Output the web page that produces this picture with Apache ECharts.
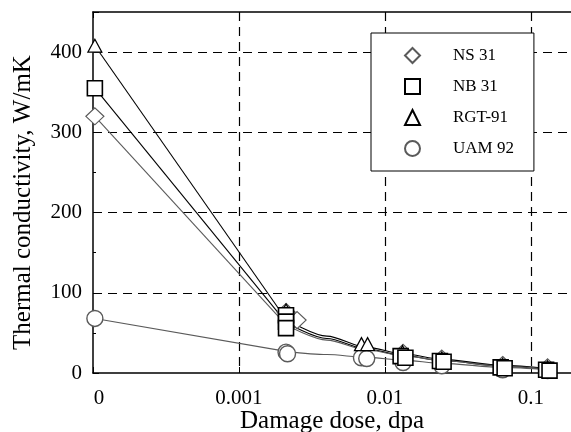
<!DOCTYPE html>
<html><head><meta charset="utf-8">
<script src="https://cdn.jsdelivr.net/npm/echarts@6/dist/echarts.min.js"></script>
<style>html,body{margin:0;padding:0;background:#fff}#c{width:571px;height:432px}</style>
</head><body><div id="c"></div>
<script>
// ---- tick labels ----
const xTickExponents = [-4, -3, -2, -1];
const xTickLabels = ['0', '0.001', '0.01', '0.1'];
const yTicks = [0, 100, 200, 300, 400];

// ---- measured points (markers) ----
const nsDose  = [0.000103, 0.0021, 0.0025, 0.0133, 0.0245, 0.064, 0.13];
const nsCond  = [320, 76, 66, 25, 18, 10, 7];
const nbDose  = [0.000103, 0.0021, 0.0021, 0.0021, 0.0128, 0.0138, 0.0238, 0.0252, 0.062, 0.066, 0.127, 0.134];
const nbCond  = [355, 72, 64, 56, 21, 19, 15, 14, 7, 6, 4, 3];
const rgtDose = [0.000103, 0.0021, 0.0069, 0.0076, 0.0132, 0.0245, 0.064, 0.13];
const rgtCond = [408, 78, 36, 36, 26, 18, 10, 7];
const uamDose = [0.000103, 0.0021, 0.00215, 0.0069, 0.0075, 0.0133, 0.0245, 0.064, 0.13];
const uamCond = [68, 26, 24, 19, 18, 13, 9, 4, 3];

// ---- fitted curves: straight drop from the unirradiated value, then a smooth tail ----
const dropDose = [0.000103, 0.0021];
const rgtDrop  = [408, 67];
const nbDrop   = [355, 63];
const nsDrop   = [320, 60];
const uamDrop  = [68, 27];
const tailDose = [0.0021, 0.004, 0.0075, 0.0133, 0.0245, 0.064, 0.13];
const rgtTail  = [67, 46, 32, 24, 17, 9.5, 5.5];
const nbTail   = [63, 43, 30, 22, 15.5, 8.5, 4.5];
const nsTail   = [60, 41, 29, 21.5, 15.5, 8.5, 5];
const uamTail  = [27, 23, 19.5, 16, 12, 7, 4];

const FONT = 'Liberation Serif';
const GRAY = '#5a5a5a';
const pair = (xs, ys) => xs.map((x, i) => [x, ys[i]]);

function xLabel(v) {
  const e = Math.round(Math.log10(v));
  const i = xTickExponents.indexOf(e);
  if (i < 0) return '';
  return i === 0 ? '{z|' + xTickLabels[i] + '}' : xTickLabels[i];
}

const dash = { type: [9, 6], color: '#000', width: 1.2 };
const axisLineStyle = { color: '#000', width: 1.5 };

function fitLine(name, xs, ys, color, smooth) {
  return { name: name, type: 'line', data: pair(xs, ys), showSymbol: false, symbol: 'none',
    smooth: smooth ? 0.3 : false, smoothMonotone: 'x',
    lineStyle: { color: color, width: 1.1 }, z: 2, silent: true };
}

const chart = echarts.init(document.getElementById('c'));
chart.setOption({
  animation: false,
  backgroundColor: '#fff',
  grid: { left: 93, right: 0, top: 12, bottom: 59, outerBoundsMode: 'none', containLabel: false },
  legend: {
    data: ['NS 31', 'NB 31', 'RGT-91', 'UAM 92'],
    orient: 'vertical', left: 371, top: 33,
    padding: [14, 20, 14, 33],
    itemWidth: 15, itemHeight: 15, itemGap: 14,
    backgroundColor: '#fff', borderColor: '#000', borderWidth: 1,
    textStyle: { fontFamily: FONT, fontSize: 17, color: '#000', padding: [0, 0, 0, 28] },
    selectedMode: false
  },
  xAxis: [{
    type: 'log', logBase: 10, min: 0.0001, max: 0.188, position: 'bottom',
    axisLine: { lineStyle: axisLineStyle },
    axisTick: { inside: true, length: 6, lineStyle: { color: '#000' } },
    axisLabel: {
      formatter: xLabel, color: '#000', fontFamily: FONT, fontSize: 21, margin: 15,
      showMaxLabel: false,
      rich: { z: { fontFamily: FONT, fontSize: 21, color: '#000', padding: [0, 0, 0, 12] } }
    },
    splitLine: { show: true, showMinLine: false, showMaxLine: false, lineStyle: dash },
    name: 'Damage dose, dpa', nameLocation: 'middle', nameGap: 36, nameMoveOverlap: false,
    nameTextStyle: { fontFamily: FONT, fontSize: 25, color: '#000' }
  }, {
    type: 'log', logBase: 10, min: 0.0001, max: 0.188, position: 'top',
    axisLine: { lineStyle: axisLineStyle },
    axisTick: { inside: true, length: 6, lineStyle: { color: '#000' } },
    axisLabel: { show: false },
    splitLine: { show: false }
  }],
  yAxis: [{
    type: 'value', min: 0, max: 450, interval: 100,
    axisLine: { show: true, lineStyle: axisLineStyle },
    axisTick: { show: true, inside: true, length: 6, lineStyle: { color: '#000' } },
    minorTick: { show: true, splitNumber: 2, length: 3, lineStyle: { color: '#000' } },
    axisLabel: {
      color: '#000', fontFamily: FONT, fontSize: 21, margin: 11, showMaxLabel: false,
      formatter: v => (yTicks.indexOf(v) >= 0 ? String(v) : '')
    },
    splitLine: { show: true, showMinLine: false, showMaxLine: false, lineStyle: dash },
    name: 'Thermal conductivity, W/mK', nameLocation: 'middle', nameGap: 57, nameMoveOverlap: false,
    nameTextStyle: { fontFamily: FONT, fontSize: 25, color: '#000', padding: [0, 20, 0, 0] }
  }],
  series: [
    fitLine('RGT drop', dropDose, rgtDrop, '#000', false),
    fitLine('NB drop', dropDose, nbDrop, '#000', false),
    fitLine('NS drop', dropDose, nsDrop, GRAY, false),
    fitLine('UAM drop', dropDose, uamDrop, GRAY, false),
    fitLine('RGT tail', tailDose, rgtTail, '#000', true),
    fitLine('NB tail', tailDose, nbTail, '#000', true),
    fitLine('NS tail', tailDose, nsTail, GRAY, true),
    fitLine('UAM tail', tailDose, uamTail, GRAY, true),
    { name: 'UAM 92', type: 'scatter', data: pair(uamDose, uamCond), symbol: 'circle', symbolSize: 16,
      itemStyle: { color: '#fff', borderColor: GRAY, borderWidth: 1.4, opacity: 1 }, z: 3 },
    { name: 'NS 31', type: 'scatter', data: pair(nsDose, nsCond), symbol: 'diamond', symbolSize: [18, 17],
      itemStyle: { color: '#fff', borderColor: GRAY, borderWidth: 1.2, opacity: 1 }, z: 4 },
    { name: 'RGT-91', type: 'scatter', data: pair(rgtDose, rgtCond), symbol: 'triangle', symbolSize: [14, 13],
      itemStyle: { color: '#fff', borderColor: '#000', borderWidth: 1.2, opacity: 1 }, z: 5 },
    { name: 'NB 31', type: 'scatter', data: pair(nbDose, nbCond), symbol: 'rect', symbolSize: 15,
      itemStyle: { color: '#fff', borderColor: '#000', borderWidth: 1.6, opacity: 1 }, z: 6 }
  ]
});
</script>
</body></html>
